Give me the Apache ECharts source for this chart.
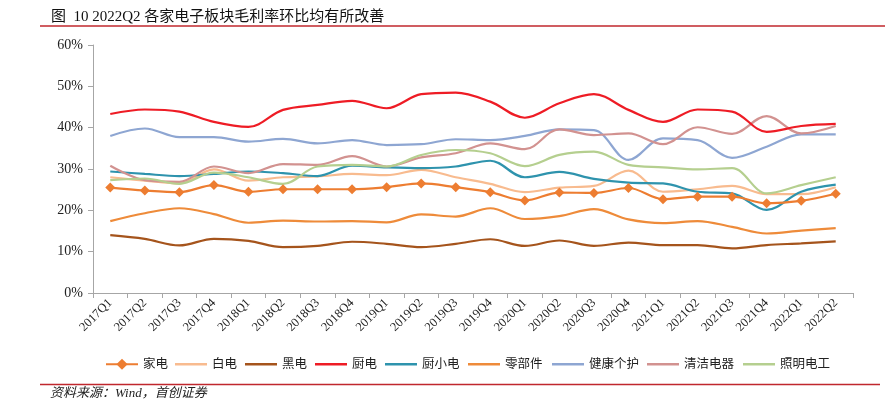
<!DOCTYPE html>
<html>
<head>
<meta charset="utf-8">
<script src="https://cdn.jsdelivr.net/npm/echarts@6/dist/echarts.min.js"></script>
<style>
html,body{margin:0;padding:0;background:#fff;}
#c{width:885px;height:412px;}
</style>
</head>
<body>
<div id="c"></div>
<script>
var categories = ['2017Q1','2017Q2','2017Q3','2017Q4','2018Q1','2018Q2','2018Q3','2018Q4','2019Q1','2019Q2','2019Q3','2019Q4','2020Q1','2020Q2','2020Q3','2020Q4','2021Q1','2021Q2','2021Q3','2021Q4','2022Q1','2022Q2'];
var yTicks = [0, 10, 20, 30, 40, 50, 60];

var jiadian = [25.5,24.8,24.4,26.1,24.5,25.1,25.1,25.1,25.6,26.5,25.6,24.4,22.4,24.3,24.2,25.4,22.7,23.3,23.3,21.7,22.3,24.0];
var baidian = [28.0,27.2,26.5,29.9,27.2,28.0,28.2,28.8,28.5,29.8,28.0,26.4,24.4,25.5,25.9,29.6,24.5,25.1,25.9,23.9,23.9,25.6];
var heidian = [14.0,13.1,11.5,13.1,12.6,11.1,11.4,12.4,11.9,11.1,11.9,13.0,11.4,12.7,11.4,12.2,11.6,11.6,10.8,11.6,12.0,12.5];
var chudian = [43.3,44.4,43.9,41.4,40.2,44.3,45.5,46.5,44.7,48.1,48.5,46.3,42.4,45.9,48.1,44.3,41.4,44.4,43.9,39.0,40.4,40.9];
var chuxiaodian = [29.4,28.8,28.3,28.8,29.4,29.0,28.3,30.8,30.4,30.2,30.6,32.0,28.0,29.3,27.6,26.7,26.5,24.5,24.1,20.1,24.5,26.2];
var lingbujian = [17.4,19.3,20.5,19.1,17.0,17.5,17.3,17.4,17.1,19.0,18.5,20.5,17.9,18.6,20.3,17.8,16.9,17.4,16.0,14.4,15.1,15.7];
var jiankang = [38.0,39.8,37.7,37.7,36.6,37.3,36.2,37.0,35.8,36.0,37.2,37.0,38.0,39.6,39.4,32.2,37.4,37.0,32.7,35.4,38.4,38.4];
var qingjie = [30.8,27.3,26.9,30.6,29.0,31.2,31.0,33.1,30.6,32.8,33.8,36.2,34.8,39.6,38.2,38.6,36.0,40.1,38.5,42.8,38.6,40.4];
var zhaoming = [27.3,27.7,26.4,29.1,28.0,26.4,30.6,31.0,30.6,33.4,34.6,33.8,30.7,33.4,34.2,31.0,30.4,29.9,30.2,24.1,26.1,28.0];

var seriesNames = ['家电','白电','黑电','厨电','厨小电','零部件','健康个护','清洁电器','照明电工'];
var seriesData = [jiadian, baidian, heidian, chudian, chuxiaodian, lingbujian, jiankang, qingjie, zhaoming];
var seriesColors = ['#ED7D31','#F8BB8F','#A5541C','#EE1C25','#2E93AD','#EE8B3A','#8EA6D2','#D29290','#B5CF8F'];
var legendLeft = [100, 170, 240, 310, 380, 463, 547, 642, 738];

var serifFont = '"Liberation Serif", "Noto Sans CJK SC", serif';
var cjkFont = '"Liberation Serif", "Noto Sans CJK SC", sans-serif';

var chart = echarts.init(document.getElementById('c'));

var series = seriesNames.map(function (n, i) {
  var isMain = i === 0;
  return {
    name: n,
    type: 'line',
    data: seriesData[i],
    smooth: 0.35,
    symbol: isMain ? 'diamond' : 'none',
    symbolSize: isMain ? 10 : 0,
    showSymbol: isMain,
    z: isMain ? 10 : (i === 3 ? 8 : 5),
    lineStyle: { color: seriesColors[i], width: 2.2 },
    itemStyle: { color: seriesColors[i] },
    emphasis: { disabled: true },
    animation: false
  };
});

var legends = seriesNames.map(function (n, i) {
  var isMain = i === 0;
  var lg = {
    data: [n],
    left: legendLeft[i],
    top: 353,
    itemWidth: 32,
    itemHeight: isMain ? 14 : 2.5,
    itemGap: 0,
    textStyle: { fontFamily: cjkFont, fontSize: 12.5, color: '#222' },
    selectedMode: false
  };
  if (!isMain) { lg.icon = 'rect'; }
  return lg;
});

var option = {
  animation: false,
  backgroundColor: '#fff',
  title: {
    text: '图  10 2022Q2 各家电子板块毛利率环比均有所改善',
    left: 46,
    top: 5,
    textStyle: { fontFamily: cjkFont, fontSize: 15, fontWeight: 'normal', color: '#111' }
  },
  legend: legends,
  grid: { left: 93, right: 32, top: 45, bottom: 119, containLabel: false },
  xAxis: {
    type: 'category',
    data: categories,
    boundaryGap: true,
    axisLine: { lineStyle: { color: '#A6A6A6', width: 1 } },
    axisTick: { show: true, length: 5, lineStyle: { color: '#A6A6A6' } },
    axisLabel: {
      rotate: 45,
      interval: 0,
      margin: 8,
      fontFamily: serifFont,
      fontSize: 12.5,
      color: '#222'
    },
    splitLine: { show: false }
  },
  yAxis: {
    type: 'value',
    min: yTicks[0],
    max: yTicks[yTicks.length - 1],
    interval: 10,
    axisLine: { show: true, lineStyle: { color: '#A6A6A6', width: 1 } },
    axisTick: { show: true, length: 5, lineStyle: { color: '#A6A6A6' } },
    axisLabel: {
      formatter: '{value}%',
      fontFamily: serifFont,
      fontSize: 14,
      color: '#222',
      margin: 10
    },
    splitLine: { show: false }
  },
  graphic: [
    { type: 'line', shape: { x1: 40, y1: 26, x2: 885, y2: 26 }, style: { stroke: '#C0272D', lineWidth: 1.5 } },
    { type: 'line', shape: { x1: 40, y1: 384.5, x2: 880, y2: 384.5 }, style: { stroke: '#C0272D', lineWidth: 1.5 } },
    { type: 'text', left: 50, top: 387, style: { text: '资料来源：Wind，首创证券', font: 'italic 13px ' + cjkFont, fill: '#222' } }
  ],
  series: series
};
chart.setOption(option);
</script>
</body>
</html>
